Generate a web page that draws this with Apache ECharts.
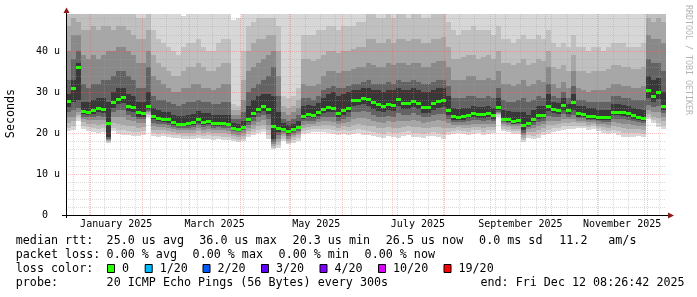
<!DOCTYPE html>
<html><head><meta charset="utf-8">
<script src="https://cdn.jsdelivr.net/npm/echarts@6/dist/echarts.min.js"></script>
<style>html,body{margin:0;padding:0;background:#fff}#c{width:697px;height:297px}</style>
</head><body><div id="c"></div>
<script>
// ---- time base: 120 consolidated steps of 3 days, 17 Dec 2024 -> 12 Dec 2025 ----
const T0 = Date.UTC(2024, 11, 17, 8, 26, 42);
const T1 = Date.UTC(2025, 11, 12, 8, 26, 42);
const DAY = 86400000;
const STEP = 3 * DAY;

// median rtt (microseconds)
const median = [
27.8,30.9,36.0,25.4,25.2,25.5,26.0,25.8,22.5,27.5,
28.3,28.8,26.5,26.3,25.0,24.9,26.5,24.2,23.6,23.5,
23.3,22.6,22.3,22.3,22.4,22.6,23.3,22.6,22.8,22.4,
22.4,22.4,22.3,21.2,21.0,21.5,23.5,24.8,25.8,26.5,
25.8,21.8,21.3,21.0,20.4,20.9,21.4,24.2,24.6,24.4,
25.0,25.8,26.4,26.2,24.8,25.5,26.2,28.0,28.1,28.5,
28.3,27.6,27.0,26.5,27.0,26.8,28.3,27.3,27.3,27.9,
27.3,26.3,26.3,27.2,27.8,28.0,25.5,24.1,24.0,24.1,
24.5,24.8,24.6,24.6,24.8,24.3,26.4,23.5,23.3,23.0,
23.2,22.0,22.5,23.4,24.4,24.4,26.5,25.8,25.6,26.8,
25.5,27.5,24.8,24.7,24.2,24.2,23.9,23.8,23.8,25.2,
25.2,25.0,24.8,24.3,23.9,23.6,30.5,29.0,30.0,26.5];

// smoke bands (outer A ... inner F): lower and upper ping bounds
const loA = [
20.5,20.8,23.0,21.0,20.5,20.2,20.0,20.3,17.5,20.5,
19.8,19.5,19.5,19.3,19.2,19.5,24.0,19.3,19.0,19.2,
19.0,18.8,18.8,18.6,18.6,18.5,18.8,18.5,18.6,18.4,
18.5,18.3,18.3,18.0,17.8,18.0,19.0,19.5,20.0,20.3,
18.5,16.0,16.3,18.0,17.2,17.5,18.0,19.8,20.0,20.2,
20.3,20.2,20.0,19.8,19.5,19.8,19.5,19.8,20.0,19.5,
19.5,19.3,19.0,18.8,19.2,19.0,18.8,19.2,19.5,19.0,
19.0,18.8,19.2,19.3,19.0,18.6,19.5,19.8,20.0,19.8,
19.5,19.8,20.0,19.5,19.8,20.0,24.0,20.5,20.2,19.8,
19.8,17.8,18.8,18.5,18.8,19.5,19.8,20.3,20.5,20.8,
21.0,21.0,21.2,21.2,20.8,21.0,20.5,20.0,19.8,20.0,
19.5,19.0,19.0,19.0,19.2,19.0,23.5,22.5,21.5,21.0];
const loB = [
21.3,21.6,23.8,21.8,21.4,21.2,21.0,21.2,17.8,21.3,
20.8,20.6,20.5,20.3,20.2,20.4,24.3,20.0,19.8,19.9,
19.7,19.5,19.4,19.3,19.3,19.3,19.6,19.3,19.4,19.2,
19.3,19.1,19.0,18.6,18.4,18.6,19.7,20.2,20.7,21.0,
19.5,16.3,17.0,18.6,17.6,18.2,18.7,20.5,20.7,20.9,
21.0,21.0,20.9,20.7,20.4,20.7,20.5,20.8,21.0,20.6,
20.5,20.3,20.0,19.8,20.2,20.0,19.9,20.2,20.4,20.1,
20.0,19.8,20.1,20.3,20.1,19.8,20.3,20.5,20.7,20.5,
20.3,20.6,20.7,20.3,20.6,20.7,24.3,21.0,20.8,20.4,
20.4,18.3,19.5,19.3,19.7,20.3,20.8,21.1,21.3,21.6,
21.7,21.8,21.8,21.8,21.4,21.6,21.1,20.7,20.5,20.8,
20.4,20.0,19.9,19.9,20.0,19.8,24.0,23.2,22.4,21.8];
const loC = [
22.5,22.8,24.5,22.6,22.3,22.2,22.0,22.2,18.0,22.5,
22.3,22.0,21.8,21.6,21.3,21.4,24.7,20.8,20.6,20.6,
20.4,20.2,20.1,20.0,20.0,20.1,20.4,20.1,20.2,20.0,
20.1,19.9,19.8,19.2,19.0,19.3,20.4,21.0,21.6,22.0,
20.7,16.7,17.8,19.2,18.0,18.9,19.4,21.3,21.4,21.6,
21.8,21.9,21.9,21.7,21.3,21.6,21.5,22.0,22.2,22.0,
21.8,21.6,21.3,21.1,21.4,21.3,21.3,21.5,21.6,21.5,
21.4,21.1,21.3,21.5,21.5,21.3,21.3,21.3,21.4,21.3,
21.2,21.5,21.5,21.2,21.4,21.4,24.6,21.6,21.4,21.0,
21.0,18.8,20.2,20.2,20.7,21.2,21.9,22.0,22.1,22.5,
22.5,22.6,22.4,22.4,22.0,22.2,21.7,21.4,21.2,21.7,
21.4,21.1,21.0,20.9,20.9,20.7,24.6,24.0,23.6,22.8];
const loD = [
23.8,24.0,25.2,23.3,23.1,23.2,23.2,23.2,18.3,23.8,
24.0,23.8,23.2,22.9,22.5,22.4,25.0,21.7,21.4,21.4,
21.2,20.9,20.7,20.6,20.7,20.8,21.2,20.8,21.0,20.7,
20.8,20.6,20.5,19.8,19.6,20.0,21.2,22.0,22.7,23.2,
22.0,17.2,18.6,19.8,18.5,19.5,20.0,22.0,22.2,22.3,
22.6,22.8,22.9,22.7,22.2,22.5,22.6,23.4,23.6,23.7,
23.4,23.0,22.7,22.5,22.8,22.7,23.0,23.0,23.0,23.2,
23.0,22.5,22.6,22.9,23.1,23.0,22.4,22.0,22.0,22.0,
22.0,22.3,22.3,22.1,22.3,22.1,24.9,22.1,21.9,21.6,
21.6,19.4,20.9,21.1,21.7,22.1,23.0,22.9,23.0,23.5,
23.3,23.5,23.0,23.0,22.6,22.7,22.3,22.1,21.9,22.6,
22.4,22.2,22.1,21.9,21.8,21.6,25.5,25.0,25.0,23.8];
const loE = [
25.0,25.5,26.0,24.0,23.8,24.0,24.2,24.0,18.6,25.0,
25.5,25.5,24.4,24.0,23.4,23.3,25.4,22.5,22.2,22.1,
21.9,21.5,21.3,21.2,21.3,21.5,21.9,21.5,21.6,21.3,
21.4,21.3,21.2,20.4,20.2,20.6,22.0,23.0,23.8,24.3,
23.5,17.8,19.5,20.3,19.2,20.0,20.5,22.8,23.0,23.0,
23.4,23.8,24.0,23.8,23.0,23.5,23.8,25.0,25.2,25.4,
25.0,24.5,24.0,23.8,24.2,24.0,24.8,24.4,24.5,24.8,
24.5,23.8,23.8,24.3,24.6,24.7,23.4,22.7,22.6,22.7,
22.9,23.2,23.1,23.0,23.2,22.8,25.2,22.6,22.4,22.1,
22.2,20.0,21.5,22.0,22.7,23.0,24.2,23.9,23.9,24.6,
24.0,24.5,23.6,23.6,23.2,23.2,22.9,22.7,22.6,23.5,
23.4,23.3,23.1,22.8,22.6,22.4,26.8,26.3,26.6,24.8];
const loF = [
26.3,27.5,28.0,24.6,24.5,24.7,25.0,24.8,19.0,26.2,
27.0,27.4,25.3,25.0,24.0,24.0,25.8,23.3,22.8,22.7,
22.5,22.0,21.8,21.7,21.8,22.0,22.5,22.0,22.1,21.8,
21.8,21.8,21.7,20.7,20.5,21.0,22.7,23.9,24.8,25.4,
24.6,18.5,20.2,20.6,19.8,20.4,20.9,23.4,23.8,23.6,
24.2,24.8,25.2,25.0,23.8,24.4,25.0,26.5,26.7,27.0,
26.5,25.9,25.4,25.0,25.5,25.3,26.5,25.8,25.8,26.3,
25.8,24.9,24.9,25.7,26.2,26.4,24.3,23.2,23.1,23.2,
23.6,23.9,23.7,23.7,23.9,23.5,25.6,22.8,22.6,22.3,
22.5,20.6,21.8,22.6,23.5,23.6,25.3,24.8,24.7,25.7,
24.6,25.5,24.0,24.0,23.5,23.5,23.2,23.1,23.1,24.3,
24.3,24.2,24.0,23.5,23.1,22.9,28.5,27.6,28.2,25.5];
const hiF = [
29.5,33,37,27.5,27.5,28,28.5,28.5,27.5,30,
31,31,29.5,29,27.5,27.5,30,26,25.5,25.2,
25.0,24.5,24.2,24.2,24.5,24.6,25.3,24.8,24.8,24.5,
24.5,24.4,24.3,22.5,22.3,23,26.5,28,29,29.5,
29.5,29,25,22.5,22,22.3,23,26.5,26.8,26.5,
27.2,28.5,29.5,30,29,29.5,30,30.5,30.5,31,
31,30.5,30.5,30,30.5,30.5,31,30.5,30.5,31,
30.5,30,30,30.5,31,31,29,26,25.8,26,
26.2,26.5,26.3,26.3,26.5,26.2,28.5,25.5,25.3,25,
25.2,25,24.5,25.5,26.5,26.5,29.5,27.5,27.2,28.5,
27,29.5,26.5,26.5,26,26,25.7,25.6,25.6,27,
27,26.8,26.6,26.2,25.8,25.5,34,33,33.5,30];
const hiE = [
33,38,40,32,31,32,32,33,33,34,
35,35,34,33,31,31,36,29,28,28,
27.5,27,26.5,27,27.5,27.5,28,27.5,27.5,27,
27,27.5,27.5,23.5,23.3,25,30,31,32,33,
34,36,29,23.5,23,23.5,24.5,28.5,28.5,28,
29,30.5,31,31.5,31,31,31.5,32,32,32.5,
33,32,32,32,32.5,32,33,32.5,32.5,33,
32.5,32,32,32.5,33,33,31.5,28.5,28.5,28.5,
29,29,28.5,28.5,29,28.5,31,28,27.5,27.5,
28,28.5,27.5,28,29,28.5,32,29,28.5,30,
28.5,31.5,28,28,27.5,27.5,27.5,27.5,27.5,29,
29,28.5,28.5,28,28,28,38,37,37,35];
const hiD = [
40,44,44,39,38,39,38,39,40,40,
41,41,40,39,37,37,40,34,33,32,
31,30,30,31,31,32,32,31,31,30.5,
31,32,32,24.5,24.3,28,35,36,37,38,
39,40,34,25,24.5,25,26,32,31.5,31.5,
32,34,35,35,34.5,35,35,35.5,36,36,
37,36.5,36,36,37,36.5,37,37,36.5,37,
37,36,36,37,37.5,37.5,36,33,33,33,
34,34,33,33,33.5,33,35,32,32,31.5,
32,33,31.5,32,33,32.5,36,32,31,32.5,
31,35,31,30.5,30,30.5,30.5,30.5,31,32,
32,31.5,31.5,31,31,31.5,44,43,43,42];
const hiC = [
46,48,47,45,45,46,45,46,46,45,
46,46,45,44,43,43,45,39,37,36,
35,34,34,35,36,36,37,36,35,35,
36,37,37,25.5,25.5,33,40,42,43,43,
44,44,40,26.5,26,26.5,28,38,38,37.5,
38,39,40,40,39.5,40,40,40.5,41,41,
43,43,42,42,43,42,43,43,42.5,43,
43,42,42,43,43,43.5,41,38,38,38.5,
39,39,38,38.5,39,38,40,37,37,36.5,
37,38,36.5,37,38,37.5,40,36,35.5,36.5,
35,39,35,35,34.5,35,35,35,35.5,36.5,
36.5,36,36,35.5,35.5,36,48,47,48,47];
const hiB = [
49,49,49,49,49,49,49,49,49,49,
49,49,49,49,48,48,49,45,43,42,
41,40,39,41,42,42,43,41,40,40,
42,43,43,27,26.5,40,46,47,48,48,
48,48,46,29,28.5,29,31,44,44,44,
45,45,46,46,45,46,46,46,47,47,
49,49,48,48,49,48,49,49,48,49,
49,48,48,49,49,49,47,45,44,45,
45,46,45,45,45,44,46,43,43,42,
43,44,43,43,44,43,45,42,41,42,
41,44,41,41,40,41,41,40,41,42,
42,42,41,41,41,42,49,49,49,49];
const hiA = [
49,49,49,49,49,49,49,49,49,49,
49,49,49,49,49,49,49,49,49,49,
49,49,49,48.5,49,49,49,49,49,49,
49,49,49,47.5,48,49,49,49,49,49,
49,49,49,49,49,49,49,49,49,49,
49,49,49,49,49,49,49,49,49,49,
49,49,49,49,49,49,49,49,49,49,
49,49,49,49,49,49,49,49,49,49,
49,49,49,49,49,49,49,49,49,49,
49,49,49,49,49,49,49,49,49,49,
49,49,49,49,49,49,49,49,49,49,
49,49,49,49,49,49,49,49,49,49];

// axis labels
const monthLabels = ['January 2025','March 2025','May 2025','July 2025','September 2025','November 2025'];
const monthLabelMonths = [0, 2, 4, 6, 8, 10];
const yTickLabels = ['0  ', '10 u', '20 u', '30 u', '40 u'];

// legend texts
const legendRow1 = ['median rtt:', '25.0 us avg', '36.0 us max', '20.3 us min', '26.5 us now', '0.0 ms sd', '11.2', 'am/s'];
const legendRow2 = ['packet loss:', '0.00 % avg', '0.00 % max', '0.00 % min', '0.00 % now'];
const lossLabels = ['0', '1/20', '2/20', '3/20', '4/20', '10/20', '19/20'];
const lossColors = ['#26ff00', '#00b8ff', '#0059ff', '#5e00ff', '#7e00ff', '#dd00ff', '#ff0000'];
const probeText = '20 ICMP Echo Pings (56 Bytes) every 300s';
const endText = 'end: Fri Dec 12 08:26:42 2025';

// ---- layout / style ----
const MONO = '"DejaVu Sans Mono", monospace';
const bandColors = ['#d7d7d7', '#c0c0c0', '#a7a7a7', '#898989', '#636363', '#383838'];
const minorColor = 'rgba(160,160,160,0.38)';
const majorColor = 'rgba(255,70,70,0.32)';

function bandSeries(lo, hi, color, z) {
  return {
    type: 'custom', coordinateSystem: 'cartesian2d', silent: true, z: z, clip: true,
    data: lo.map((v, i) => [T0 + i * STEP, v, hi[i]]),
    encode: {x: 0, y: [1, 2]},
    renderItem: function (params, api) {
      const p0 = api.coord([api.value(0), api.value(1)]);
      const p1 = api.coord([api.value(0) + STEP, api.value(2)]);
      const x0 = Math.round(p0[0]), x1 = Math.round(p1[0]);
      const yb = Math.round(p0[1]), yt = Math.round(p1[1]);
      return {type: 'rect', shape: {x: x0, y: yt, width: x1 - x0, height: yb - yt}, style: {fill: color}};
    }
  };
}

const medianSeries = {
  type: 'custom', coordinateSystem: 'cartesian2d', silent: true, z: 5, clip: true,
  data: median.map((v, i) => [T0 + i * STEP, v]),
  encode: {x: 0, y: 1},
  renderItem: function (params, api) {
    const p0 = api.coord([api.value(0), api.value(1)]);
    const p1 = api.coord([api.value(0) + STEP, api.value(1)]);
    const x0 = Math.round(p0[0]), x1 = Math.round(p1[0]);
    const y = Math.round(p0[1]);
    return {type: 'rect', shape: {x: x0, y: y - 1, width: x1 - x0, height: 3}, style: {fill: '#26ff00'}};
  }
};

// grid line values (axis units)
const hMinor = [], hMajor = [10, 20, 30, 40];
for (let v = 2; v < 49; v += 2) if (v % 10 !== 0) hMinor.push(v);
const vMinor = [];
for (let t = T0 + 4.4 * DAY; t < T1; t += 9.25 * DAY) vMinor.push(t);
const vMajor = [];
for (let m = 0; m < 12; m++) vMajor.push(Date.UTC(2025, m, 1));

function hGrid(values, color) {
  return {
    type: 'custom', coordinateSystem: 'cartesian2d', silent: true, z: 3,
    data: values.map(v => [T0, v]), encode: {x: 0, y: 1},
    renderItem: function (params, api) {
      const p = api.coord([T0, api.value(1)]);
      const cs = params.coordSys;
      const y = Math.round(p[1]) + 0.5;
      return {type: 'line', shape: {x1: cs.x, y1: y, x2: cs.x + cs.width, y2: y},
        style: {stroke: color, lineWidth: 1, lineDash: [1, 1]}};
    }
  };
}
function vGrid(values, color) {
  return {
    type: 'custom', coordinateSystem: 'cartesian2d', silent: true, z: 3,
    data: values.map(t => [t, 0]), encode: {x: 0, y: 1},
    renderItem: function (params, api) {
      const p = api.coord([api.value(0), 0]);
      const cs = params.coordSys;
      const x = Math.round(p[0]) + 0.5;
      return {type: 'line', shape: {x1: x, y1: cs.y, x2: x, y2: cs.y + cs.height},
        style: {stroke: color, lineWidth: 1, lineDash: [1, 1]}};
    }
  };
}

const labelValues = monthLabelMonths.map(m => (Date.UTC(2025, m, 1) + Date.UTC(2025, m + 1, 1)) / 2);

const series = [
  bandSeries(loA, hiA, bandColors[0], 2),
  bandSeries(loB, hiB, bandColors[1], 2),
  bandSeries(loC, hiC, bandColors[2], 2),
  bandSeries(loD, hiD, bandColors[3], 2),
  bandSeries(loE, hiE, bandColors[4], 2),
  bandSeries(loF, hiF, bandColors[5], 2),
  hGrid(hMinor, minorColor),
  vGrid(vMinor, minorColor),
  hGrid(hMajor, majorColor),
  vGrid(vMajor, majorColor),
  medianSeries
];

// graphic: texts, arrows, legend
const graphic = [];
function text(x, y, s, size) {
  graphic.push({
    type: 'text', x: x, y: y, silent: true,
    style: {text: s, font: size + 'px ' + MONO, fill: '#000', align: 'left', verticalAlign: 'middle'}
  });
}
const row1X = [15.8, 106.6, 199.3, 292.6, 385.8, 479.1, 559.3, 608.3];
legendRow1.forEach((s, i) => text(row1X[i], 241.2, s, 11.7));
const row2X = [15.8, 106.6, 192.6, 278.6, 364.6];
legendRow2.forEach((s, i) => text(row2X[i], 255.2, s, 11.7));
text(15.8, 269, 'loss color:', 11.7);
const swX = [107, 144.7, 202.5, 261, 319.5, 378, 443.5];
lossLabels.forEach((s, i) => {
  graphic.push({type: 'rect', silent: true, shape: {x: swX[i] + 0.5, y: 264.5, width: 7, height: 8},
    style: {fill: lossColors[i], stroke: '#000', lineWidth: 1}});
  text(swX[i] + 15, 269, s, 11.7);
});
text(15.8, 283, 'probe:', 11.7);
text(106.6, 283, probeText, 11.7);
text(480.5, 283, endText, 11.7);
graphic.push({type: 'text', x: 11, y: 113.5, rotation: Math.PI / 2, silent: true,
  style: {text: 'Seconds', font: '11.7px ' + MONO, fill: '#000', align: 'center', verticalAlign: 'middle'}});
graphic.push({type: 'text', x: 688, y: 60, rotation: -Math.PI / 2, silent: true,
  style: {text: 'RRDTOOL / TOBI OETIKER', font: '8.3px ' + MONO, fill: '#b4b4b4', align: 'center', verticalAlign: 'middle'}});
graphic.push({type: 'line', silent: true, z: 20, shape: {x1: 66.5, y1: 10, x2: 66.5, y2: 218}, style: {stroke: '#000', lineWidth: 1}});
graphic.push({type: 'line', silent: true, z: 20, shape: {x1: 62, y1: 215.5, x2: 669, y2: 215.5}, style: {stroke: '#000', lineWidth: 1}});
graphic.push({type: 'polygon', silent: true, z: 21, shape: {points: [[63.5, 13], [69.5, 13], [66.5, 7.5]]}, style: {fill: '#8b1a1a'}});
graphic.push({type: 'polygon', silent: true, z: 21, shape: {points: [[668, 212.5], [668, 218.5], [674, 215.5]]}, style: {fill: '#8b1a1a'}});

const chart = echarts.init(document.getElementById('c'), null, {renderer: 'canvas'});
chart.setOption({
  animation: false,
  backgroundColor: '#ffffff',
  grid: {left: 66, top: 14, width: 600, height: 201, containLabel: false},
  xAxis: {
    type: 'time', min: T0, max: T1, z: 10,
    axisLine: {show: true, lineStyle: {color: '#000', width: 1}},
    axisTick: {show: false},
    splitLine: {show: false},
    axisLabel: {show: false}
  },
  yAxis: {
    type: 'value', min: 0, max: 49, interval: 10, z: 10,
    axisLine: {show: true, lineStyle: {color: '#000', width: 1}},
    axisTick: {show: false},
    splitLine: {show: false},
    axisLabel: {
      show: true, margin: 6, showMaxLabel: false,
      fontFamily: 'DejaVu Sans Mono', fontSize: 10, color: '#000',
      formatter: function (v) { return yTickLabels[Math.round(v / 10)] || ''; }
    }
  },
  graphic: graphic,
  series: series
});

// month labels placed through the x scale
labelValues.forEach((t, i) => {
  const p = chart.convertToPixel({gridIndex: 0}, [t, 0]);
  graphic.push({type: 'text', x: p[0], y: p[1] + 9.5, silent: true,
    style: {text: monthLabels[i], font: '10px ' + MONO, fill: '#000', align: 'center', verticalAlign: 'middle'}});
});
chart.setOption({graphic: graphic});
</script>
</body></html>
